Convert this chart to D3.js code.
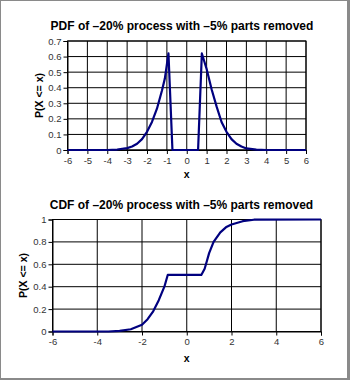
<!DOCTYPE html>
<html>
<head>
<meta charset="utf-8">
<script src="https://cdn.jsdelivr.net/npm/d3@7/dist/d3.min.js"></script>
<style>
  html, body { margin: 0; padding: 0; background: #fff; }
  svg { display: block; }
  text { font-family: Arial, "Liberation Sans", sans-serif; }
</style>
</head>
<body>
<svg id="chart" width="350" height="380"></svg>
<script>
// Probability density of the trimmed process
const pdfX = [-6, -4, -3.5, -3, -2.75, -2.5, -2.25, -2, -1.75, -1.5, -1.25, -1.1, -0.92, -0.72,
              0.57, 0.76, 1, 1.25, 1.5, 1.75, 2, 2.25, 2.5, 2.75, 3, 3.5, 4, 6];
const pdfY = [0, 0, 0.003, 0.012, 0.022, 0.04, 0.07, 0.117, 0.18, 0.265, 0.38, 0.46, 0.62, 0,
              0, 0.62, 0.52, 0.39, 0.28, 0.18, 0.117, 0.07, 0.04, 0.022, 0.01, 0.002, 0, 0];

// Cumulative distribution of the same process
const cdfX = [-6, -3.5, -3, -2.5, -2, -1.75, -1.5, -1.25, -1, -0.85, 0.65, 0.8, 0.9, 1, 1.2, 1.5, 1.75, 2, 2.5, 3, 6];
const cdfY = [0, 0, 0.005, 0.02, 0.06, 0.11, 0.18, 0.28, 0.40, 0.505, 0.505, 0.56, 0.63, 0.70, 0.80, 0.885, 0.93, 0.955, 0.985, 0.998, 1];

const pdfXTicks = [-6, -5, -4, -3, -2, -1, 0, 1, 2, 3, 4, 5, 6];
const pdfYTicks = [0, 0.1, 0.2, 0.3, 0.4, 0.5, 0.6, 0.7];
const cdfXTicks = [-6, -4, -2, 0, 2, 4, 6];
const cdfYTicks = [0, 0.2, 0.4, 0.6, 0.8, 1];

const pdfTitle = "PDF of \u201320% process with \u20135% parts removed";
const cdfTitle = "CDF of \u201320% process with \u20135% parts removed";
const xLabel = "x";
const yLabel = "P(X <= x)";

// plain hyphen-minus for negative tick labels
const plainNum = d => String(+d.toFixed(1));

const svg = d3.select("#chart");

// outer frame
svg.append("rect").attr("x", 0).attr("y", 0).attr("width", 350).attr("height", 380).attr("fill", "#8a8a8a");
svg.append("rect").attr("x", 1).attr("y", 1).attr("width", 346).attr("height", 377).attr("fill", "#fff");

function panel(cfg) {
  const x = d3.scaleLinear().domain([-6, 6]).range([cfg.left, cfg.right]);
  const y = d3.scaleLinear().domain(cfg.yDomain).range([cfg.bottom, cfg.top]);
  const g = svg.append("g");

  // grid
  g.append("g").selectAll("line").data(cfg.xTicks).join("line")
    .attr("x1", d => x(d)).attr("x2", d => x(d))
    .attr("y1", cfg.top).attr("y2", cfg.bottom)
    .attr("stroke", "#000").attr("stroke-width", 1);
  g.append("g").selectAll("line").data(cfg.yTicks).join("line")
    .attr("y1", d => y(d)).attr("y2", d => y(d))
    .attr("x1", cfg.left).attr("x2", cfg.right)
    .attr("stroke", "#000").attr("stroke-width", 1);
  g.append("rect")
    .attr("x", cfg.left).attr("y", cfg.top)
    .attr("width", cfg.right - cfg.left).attr("height", cfg.bottom - cfg.top)
    .attr("fill", "none").attr("stroke", "#000");

  // axes
  const ax = g.append("g").attr("transform", `translate(0,${cfg.bottom})`)
    .call(d3.axisBottom(x).tickValues(cfg.xTicks).tickSize(4).tickPadding(3).tickFormat(plainNum));
  const ay = g.append("g").attr("transform", `translate(${cfg.left},0)`)
    .call(d3.axisLeft(y).tickValues(cfg.yTicks).tickSize(4).tickPadding(2).tickFormat(plainNum));
  [ax, ay].forEach(a => {
    a.select(".domain").attr("stroke", "#000");
    a.selectAll(".tick line").attr("stroke", "#000");
    a.selectAll(".tick text").attr("fill", "#333").attr("font-size", 9.5)
      .attr("font-family", "Arial, 'Liberation Sans', sans-serif");
  });

  // curve
  const pts = cfg.xs.map((v, i) => [v, cfg.ys[i]]);
  g.append("path").datum(pts)
    .attr("fill", "none").attr("stroke", "#00007f").attr("stroke-width", 2.2)
    .attr("stroke-linejoin", "round")
    .attr("d", d3.line().x(d => x(d[0])).y(d => y(d[1])));

  // titles and labels
  g.append("text").attr("x", cfg.titleX).attr("y", cfg.titleY).attr("text-anchor", "middle")
    .attr("font-size", 12).attr("font-weight", "bold").text(cfg.title);
  g.append("text").attr("x", (cfg.left + cfg.right) / 2).attr("y", cfg.xLabelY).attr("text-anchor", "middle")
    .attr("font-size", 10.5).attr("font-weight", "bold").text(xLabel);
  g.append("text")
    .attr("transform", `translate(${cfg.yLabelX},${(cfg.top + cfg.bottom) / 2}) rotate(-90)`)
    .attr("text-anchor", "middle").attr("font-size", 10.5).attr("font-weight", "bold").text(yLabel);
}

panel({
  left: 67.5, right: 306, top: 41, bottom: 150,
  yDomain: [0, 0.7], xTicks: pdfXTicks, yTicks: pdfYTicks,
  xs: pdfX, ys: pdfY, title: pdfTitle, titleX: 182, titleY: 29.5,
  xLabelY: 178, yLabelX: 43
});

panel({
  left: 52.5, right: 321, top: 219.5, bottom: 331.5,
  yDomain: [0, 1], xTicks: cdfXTicks, yTicks: cdfYTicks,
  xs: cdfX, ys: cdfY, title: cdfTitle, titleX: 181.5, titleY: 208.5,
  xLabelY: 362, yLabelX: 27
});
</script>
</body>
</html>
